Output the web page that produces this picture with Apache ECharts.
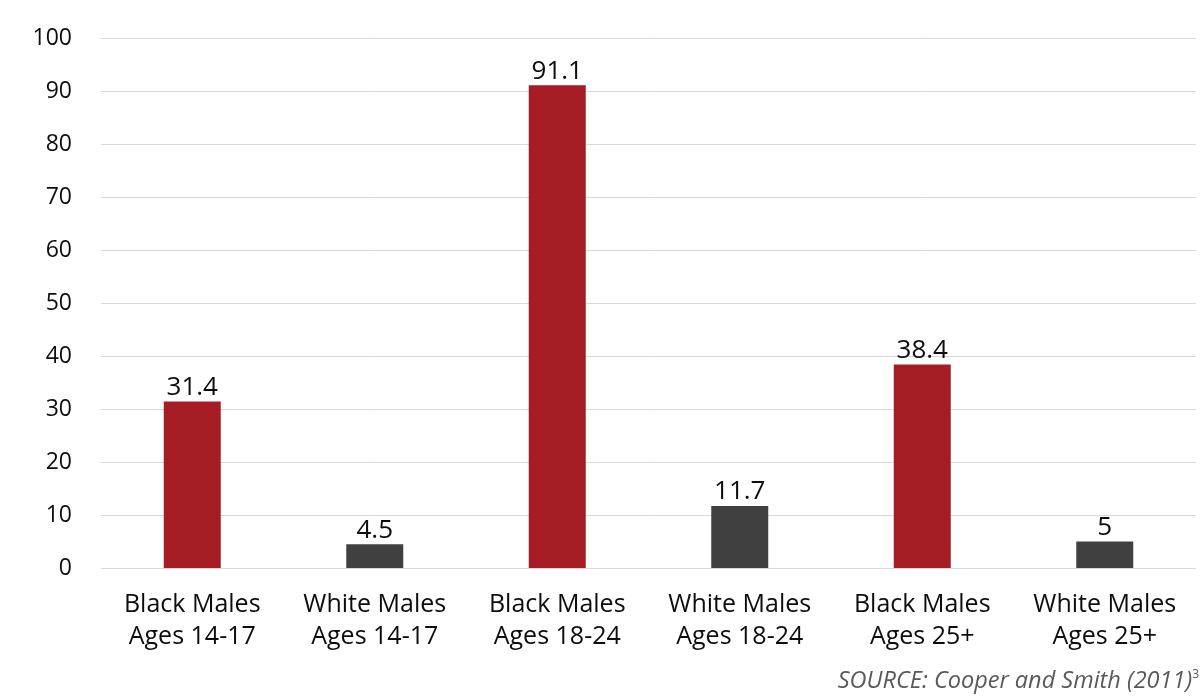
<!DOCTYPE html>
<html><head><meta charset="utf-8">
<script src="https://cdn.jsdelivr.net/npm/echarts@6/dist/echarts.min.js"></script>
<style>html,body{margin:0;padding:0;background:#fff}#c{width:1203px;height:698px}</style>
</head><body><div id="c"></div>
<script>
const categories = ["Black Males\nAges 14-17","White Males\nAges 14-17","Black Males\nAges 18-24","White Males\nAges 18-24","Black Males\nAges 25+","White Males\nAges 25+"];
const values = [31.4, 4.5, 91.1, 11.7, 38.4, 5];
const groups = ["black","white","black","white","black","white"];
const colorMap = {black:"#A51C25", white:"#404040"};
const chart = echarts.init(document.getElementById('c'));
const font = "'Open Sans', 'Noto Sans', sans-serif";
chart.setOption({
  animation:false,
  grid:{left:101,right:7,top:38,bottom:130},
  xAxis:{type:'category',data:categories,
    axisLine:{show:false},axisTick:{show:false},
    axisLabel:{interval:0,color:'#0d0d0d',fontSize:25,fontFamily:font,lineHeight:32,margin:21}},
  yAxis:{type:'value',min:0,max:100,interval:10,
    axisLine:{show:false},axisTick:{show:false},
    splitLine:{lineStyle:{color:'#d9d9d9',width:1}},
    axisLabel:{color:'#0d0d0d',fontSize:23,fontFamily:font,margin:29}},
  series:[{type:'bar',barWidth:57,
    data:values.map((v,i)=>({value:v,itemStyle:{color:colorMap[groups[i]]}})),
    label:{show:true,position:'top',color:'#0d0d0d',fontSize:26,fontFamily:font,distance:1}}],
  graphic:[{type:'text',right:4,top:669,style:{
    text:'{m|SOURCE: Cooper and Smith (2011)}{s|3}',
    rich:{m:{fontSize:23.5,fontStyle:'italic',fill:'#595959',fontFamily:font},
          s:{fontSize:12,fill:'#595959',fontFamily:font,verticalAlign:'top',padding:[0,0,12,0]}}}}]
});
</script></body></html>
